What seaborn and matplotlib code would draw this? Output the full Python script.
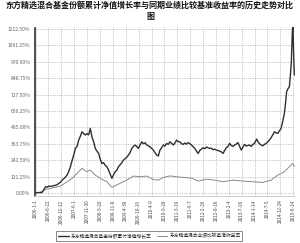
import matplotlib
matplotlib.use("Agg")
import matplotlib.pyplot as plt
import seaborn as sns
import pandas as pd

sns.set_theme(style="white")
plt.rcParams['font.family'] = ['Noto Sans CJK SC', 'DejaVu Sans']

# (trading-day index, cumulative return %)
fund_points = [
    (0, 3), (30, 4), (60, 5), (90, 47), (105, 44), (120, 52), (140, 50), (165, 55), (190, 60),
    (210, 72), (225, 80), (240, 96), (260, 110), (285, 133), (300, 160), (315, 195), (330, 240),
    (345, 281), (360, 330), (375, 345), (390, 392), (405, 420), (420, 453), (435, 440),
    (450, 429), (465, 440), (480, 430), (495, 478), (510, 416), (525, 380), (540, 330),
    (555, 310), (570, 293), (585, 250), (600, 219), (615, 225), (630, 205), (645, 195),
    (660, 170), (675, 140), (690, 109), (705, 135), (720, 158), (735, 170), (750, 195),
    (765, 210), (780, 225), (795, 244), (810, 255), (825, 265), (840, 281), (855, 300),
    (870, 330), (885, 345), (900, 355), (915, 345), (930, 330), (945, 355), (960, 379),
    (975, 365), (990, 372), (1005, 355), (1020, 350), (1035, 342), (1050, 330), (1065, 318),
    (1080, 300), (1095, 281), (1110, 274), (1125, 318), (1140, 335), (1155, 355), (1170, 348),
    (1185, 367), (1200, 360), (1215, 379), (1230, 368), (1245, 355), (1260, 370), (1275, 392),
    (1290, 380), (1305, 379), (1320, 365), (1335, 360), (1350, 370), (1365, 362), (1380, 373),
    (1395, 365), (1410, 355), (1425, 342), (1440, 330), (1455, 310), (1470, 293), (1485, 315),
    (1500, 325), (1515, 335), (1530, 328), (1545, 340), (1560, 335), (1575, 330), (1590, 332),
    (1605, 320), (1620, 325), (1635, 318), (1650, 315), (1665, 310), (1680, 305), (1695, 293),
    (1710, 315), (1725, 335), (1740, 345), (1755, 367), (1770, 352), (1785, 345), (1800, 355),
    (1815, 362), (1830, 373), (1845, 345), (1860, 318), (1875, 340), (1890, 360), (1905, 348),
    (1920, 352), (1935, 355), (1950, 345), (1965, 360), (1980, 367), (1990, 385), (2000, 399),
    (2010, 380), (2025, 365), (2040, 355), (2055, 350), (2070, 360), (2085, 367), (2100, 380),
    (2115, 392), (2130, 410), (2145, 430), (2160, 453), (2175, 445), (2190, 441), (2205, 460),
    (2220, 478), (2235, 530), (2250, 589), (2260, 660), (2270, 749), (2282, 770), (2295, 786),
    (2305, 880), (2313, 971), (2322, 1192), (2327, 1250), (2331, 1100), (2336, 950), (2340, 872),
]

bench_points = [
    (0, 3), (40, 5), (90, 27), (160, 40), (225, 52), (285, 84), (330, 109), (375, 146),
    (420, 183), (465, 158), (495, 170), (540, 133), (585, 109), (645, 84), (690, 42),
    (750, 67), (825, 96), (885, 126), (945, 121), (1005, 126), (1065, 100), (1110, 96),
    (1155, 116), (1215, 127), (1275, 121), (1335, 116), (1410, 111), (1470, 89), (1545, 103),
    (1620, 96), (1695, 84), (1785, 96), (1875, 89), (1965, 84), (2055, 79), (2130, 96),
    (2190, 133), (2250, 158), (2295, 195), (2325, 219), (2340, 195),
]

tick_labels = ["2006-1-1", "2006-6-22", "2006-12-12", "2007-6-1", "2007-11-30", "2008-5-20",
               "2008-11-8", "2009-4-30", "2009-10-19", "2010-4-9", "2010-9-28", "2011-3-19",
               "2011-9-7", "2012-2-26", "2012-8-16", "2013-2-4", "2013-7-26", "2014-1-14",
               "2014-7-5", "2014-12-24", "2015-6-14"]
y_ticks = [0.00, 121.25, 242.50, 363.75, 485.00, 606.25, 727.50, 848.75, 970.00, 1091.25, 1212.50]

name_fund = "东方精选混合基金份额累计净值增长率"
name_bench = "东方精选混合业绩比较基准收益率"

df_f = pd.DataFrame(fund_points, columns=["day", "val"])
df_b = pd.DataFrame(bench_points, columns=["day", "val"])

fig = plt.figure(figsize=(3.0, 2.43), dpi=100)
ax = fig.add_axes([0.113, 0.193, 0.87, 0.696])

sns.lineplot(data=df_b, x="day", y="val", ax=ax, color="#8a8a8a", linewidth=0.7, label=name_bench)
sns.lineplot(data=df_f, x="day", y="val", ax=ax, color="#2f2f2f", linewidth=1.0, label=name_fund)

n = len(tick_labels)
xmax = 2330
xt = [i * xmax / (n - 1) for i in range(n)]
ax.set_xlim(-15, 2345)
ax.set_ylim(-22, 1227)
ax.set_xticks(xt)
ax.set_xticklabels(tick_labels, rotation=90, fontsize=3.3, color="#444444")
ax.set_yticks(y_ticks)
ax.set_yticklabels([f"{v:.2f}%" for v in y_ticks], fontsize=3.6, color="#666666")
ax.tick_params(axis="both", length=1.5, pad=1, width=0.4, color="#777777")
ax.set_xlabel("")
ax.set_ylabel("")
ax.grid(True, linestyle=(0, (1, 1.5)), color="#999999", linewidth=0.5)
for s in ["top", "right"]:
    ax.spines[s].set_visible(False)
ax.spines["bottom"].set_color("#bbbbbb")
ax.spines["bottom"].set_linewidth(0.5)
ax.spines["left"].set_color("#333333")
ax.spines["left"].set_linewidth(0.6)
ax.axvline(-4, color="#333333", linewidth=0.6)

fig.text(0.5, 0.995, "东方精选混合基金份额累计净值增长率与同期业绩比较基准收益率的历史走势对比\n图",
         ha="center", va="top", fontsize=5.8, fontweight="bold", color="#111111", linespacing=1.2)

handles, labels = ax.get_legend_handles_labels()
if ax.get_legend():
    ax.get_legend().remove()
leg = fig.legend(handles[::-1], labels[::-1], loc="lower center", bbox_to_anchor=(0.498, 0.0),
                 ncol=2, fontsize=3.4, frameon=True, fancybox=False, edgecolor="#333333",
                 handlelength=2.2, columnspacing=1.0, borderpad=0.4, handletextpad=0.5)
leg.get_frame().set_linewidth(0.5)

fig.savefig("out.png", dpi=100)
